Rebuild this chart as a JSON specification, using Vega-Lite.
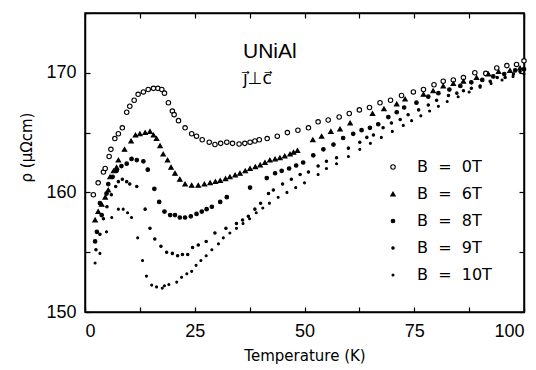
{
  "$schema": "https://vega.github.io/schema/vega-lite/v6.json",
  "width": 439,
  "height": 299,
  "autosize": {"type": "none"},
  "padding": {"left": 85, "top": 13, "right": 12, "bottom": 58},
  "background": "white",
  "config": {
    "view": {"stroke": "black", "strokeWidth": 1.5},
    "axis": {
      "grid": false,
      "domainColor": "black",
      "domainWidth": 1.5,
      "tickColor": "black",
      "tickWidth": 1.2,
      "tickSize": -5,
      "labelColor": "black",
      "labelFont": "Liberation Sans",
      "labelFontSize": 18,
      "titleColor": "black",
      "titleFont": "DejaVu Sans",
      "titleFontSize": 15,
      "titleFontWeight": "normal"
    },
    "legend": {
      "labelFont": "DejaVu Sans",
      "labelFontSize": 16,
      "labelColor": "black"
    }
  },
  "datasets": {
    "pts": [
      {"B":"0T","T":1.9,"rho":159.8},{"B":"0T","T":3.0,"rho":160.8},{"B":"0T","T":4.2,"rho":161.7},{"B":"0T","T":4.6,"rho":162.0},{"B":"0T","T":5.5,"rho":163.0},{"B":"0T","T":5.9,"rho":163.6},{"B":"0T","T":6.8,"rho":164.5},{"B":"0T","T":7.6,"rho":164.9},{"B":"0T","T":8.5,"rho":165.4},{"B":"0T","T":9.5,"rho":166.7},{"B":"0T","T":10.2,"rho":167.2},{"B":"0T","T":11.2,"rho":167.7},{"B":"0T","T":12.1,"rho":168.2},{"B":"0T","T":13.3,"rho":168.4},{"B":"0T","T":14.4,"rho":168.6},{"B":"0T","T":15.6,"rho":168.7},{"B":"0T","T":16.6,"rho":168.7},{"B":"0T","T":17.5,"rho":168.6},{"B":"0T","T":18.1,"rho":168.3},{"B":"0T","T":19.0,"rho":167.5},{"B":"0T","T":19.9,"rho":166.8},{"B":"0T","T":20.3,"rho":166.5},{"B":"0T","T":21.3,"rho":166.0},{"B":"0T","T":22.8,"rho":165.4},{"B":"0T","T":24.3,"rho":164.9},{"B":"0T","T":25.4,"rho":164.7},{"B":"0T","T":26.7,"rho":164.4},{"B":"0T","T":28.3,"rho":164.2},{"B":"0T","T":29.6,"rho":164.0},{"B":"0T","T":30.9,"rho":164.1},{"B":"0T","T":32.3,"rho":164.2},{"B":"0T","T":33.6,"rho":164.1},{"B":"0T","T":35.1,"rho":164.05},{"B":"0T","T":36.4,"rho":164.1},{"B":"0T","T":37.6,"rho":164.2},{"B":"0T","T":38.7,"rho":164.3},{"B":"0T","T":39.7,"rho":164.4},{"B":"0T","T":41.5,"rho":164.5},{"B":"0T","T":43.8,"rho":164.7},{"B":"0T","T":46.1,"rho":165.0},{"B":"0T","T":48.5,"rho":165.2},{"B":"0T","T":50.9,"rho":165.4},{"B":"0T","T":53.1,"rho":165.9},{"B":"0T","T":55.4,"rho":166.05},{"B":"0T","T":57.9,"rho":166.3},{"B":"0T","T":60.2,"rho":166.6},{"B":"0T","T":62.5,"rho":166.9},{"B":"0T","T":64.8,"rho":167.1},{"B":"0T","T":67.2,"rho":167.5},{"B":"0T","T":69.6,"rho":167.7},{"B":"0T","T":72.1,"rho":168.1},{"B":"0T","T":74.8,"rho":168.4},{"B":"0T","T":77.1,"rho":168.6},{"B":"0T","T":79.5,"rho":169.0},{"B":"0T","T":81.6,"rho":169.3},{"B":"0T","T":83.9,"rho":169.4},{"B":"0T","T":86.2,"rho":169.6},{"B":"0T","T":88.8,"rho":170.0},{"B":"0T","T":91.3,"rho":169.95},{"B":"0T","T":93.8,"rho":170.4},{"B":"0T","T":96.1,"rho":170.6},{"B":"0T","T":98.3,"rho":170.7},{"B":"0T","T":100,"rho":171.0},

      {"B":"6T","T":2.3,"rho":157.7},{"B":"6T","T":3.0,"rho":158.4},{"B":"6T","T":3.8,"rho":159.0},{"B":"6T","T":4.6,"rho":159.6},{"B":"6T","T":5.3,"rho":160.2},{"B":"6T","T":5.7,"rho":161.3},{"B":"6T","T":6.5,"rho":161.8},{"B":"6T","T":7.2,"rho":162.1},{"B":"6T","T":7.6,"rho":162.7},{"B":"6T","T":9.0,"rho":163.6},{"B":"6T","T":10.5,"rho":164.3},{"B":"6T","T":11.5,"rho":164.8},{"B":"6T","T":12.5,"rho":164.9},{"B":"6T","T":13.7,"rho":165.0},{"B":"6T","T":14.8,"rho":165.1},{"B":"6T","T":15.6,"rho":164.8},{"B":"6T","T":16.3,"rho":164.5},{"B":"6T","T":17.1,"rho":163.9},{"B":"6T","T":17.8,"rho":163.2},{"B":"6T","T":18.8,"rho":162.7},{"B":"6T","T":19.6,"rho":162.1},{"B":"6T","T":20.5,"rho":161.6},{"B":"6T","T":21.6,"rho":161.1},{"B":"6T","T":22.8,"rho":160.7},{"B":"6T","T":24.3,"rho":160.6},{"B":"6T","T":25.8,"rho":160.6},{"B":"6T","T":27.2,"rho":160.7},{"B":"6T","T":28.5,"rho":160.8},{"B":"6T","T":29.7,"rho":160.9},{"B":"6T","T":30.8,"rho":161.0},{"B":"6T","T":32.0,"rho":161.15},{"B":"6T","T":33.0,"rho":161.3},{"B":"6T","T":34.2,"rho":161.45},{"B":"6T","T":35.3,"rho":161.6},{"B":"6T","T":36.5,"rho":161.8},{"B":"6T","T":37.6,"rho":162.0},{"B":"6T","T":38.8,"rho":162.15},{"B":"6T","T":39.9,"rho":162.3},{"B":"6T","T":41.0,"rho":162.5},{"B":"6T","T":42.1,"rho":162.7},{"B":"6T","T":43.3,"rho":162.8},{"B":"6T","T":44.4,"rho":162.9},{"B":"6T","T":45.5,"rho":163.05},{"B":"6T","T":46.7,"rho":163.2},{"B":"6T","T":47.5,"rho":163.35},{"B":"6T","T":48.4,"rho":163.5},{"B":"6T","T":51.9,"rho":164.4},{"B":"6T","T":53.9,"rho":164.7},{"B":"6T","T":56.0,"rho":165.1},{"B":"6T","T":58.1,"rho":165.3},{"B":"6T","T":60.4,"rho":165.8},{"B":"6T","T":65.5,"rho":166.6},{"B":"6T","T":68.1,"rho":167.0},{"B":"6T","T":71.0,"rho":167.4},{"B":"6T","T":72.9,"rho":167.8},{"B":"6T","T":77.1,"rho":168.2},{"B":"6T","T":79.3,"rho":168.5},{"B":"6T","T":81.6,"rho":168.9},{"B":"6T","T":83.9,"rho":169.1},{"B":"6T","T":86.2,"rho":169.3},{"B":"6T","T":89.2,"rho":169.6},{"B":"6T","T":91.9,"rho":169.9},{"B":"6T","T":94.2,"rho":170.1},{"B":"6T","T":96.8,"rho":170.2},{"B":"6T","T":99.1,"rho":170.4},

      {"B":"8T","T":2.3,"rho":155.9},{"B":"8T","T":2.7,"rho":156.7},{"B":"8T","T":3.4,"rho":159.1},{"B":"8T","T":3.8,"rho":158.1},{"B":"8T","T":4.9,"rho":159.9},{"B":"8T","T":5.3,"rho":160.7},{"B":"8T","T":6.3,"rho":161.3},{"B":"8T","T":7.2,"rho":161.8},{"B":"8T","T":8.3,"rho":162.2},{"B":"8T","T":9.5,"rho":162.4},{"B":"8T","T":10.6,"rho":162.8},{"B":"8T","T":11.8,"rho":162.7},{"B":"8T","T":13.3,"rho":162.6},{"B":"8T","T":14.3,"rho":161.9},{"B":"8T","T":15.8,"rho":160.3},{"B":"8T","T":16.9,"rho":159.2},{"B":"8T","T":18.1,"rho":158.4},{"B":"8T","T":19.4,"rho":158.1},{"B":"8T","T":20.5,"rho":158.1},{"B":"8T","T":21.6,"rho":157.9},{"B":"8T","T":22.8,"rho":157.9},{"B":"8T","T":24.1,"rho":158.0},{"B":"8T","T":25.4,"rho":158.2},{"B":"8T","T":26.6,"rho":158.4},{"B":"8T","T":27.7,"rho":158.6},{"B":"8T","T":28.9,"rho":158.8},{"B":"8T","T":30.8,"rho":159.2},{"B":"8T","T":32.3,"rho":159.6},{"B":"8T","T":37.6,"rho":160.4},{"B":"8T","T":41.4,"rho":161.2},{"B":"8T","T":43.3,"rho":161.6},{"B":"8T","T":44.8,"rho":161.8},{"B":"8T","T":46.5,"rho":162.0},{"B":"8T","T":48.1,"rho":162.25},{"B":"8T","T":49.7,"rho":162.5},{"B":"8T","T":52.0,"rho":163.1},{"B":"8T","T":54.3,"rho":163.6},{"B":"8T","T":56.6,"rho":164.0},{"B":"8T","T":58.8,"rho":164.55},{"B":"8T","T":61.1,"rho":164.9},{"B":"8T","T":63.0,"rho":165.2},{"B":"8T","T":64.9,"rho":165.4},{"B":"8T","T":66.8,"rho":165.7},{"B":"8T","T":69.1,"rho":166.3},{"B":"8T","T":71.0,"rho":166.7},{"B":"8T","T":72.7,"rho":167.1},{"B":"8T","T":75.5,"rho":167.5},{"B":"8T","T":78.2,"rho":168.0},{"B":"8T","T":80.5,"rho":168.3},{"B":"8T","T":83.0,"rho":168.6},{"B":"8T","T":85.5,"rho":168.9},{"B":"8T","T":88.0,"rho":169.2},{"B":"8T","T":90.5,"rho":169.4},{"B":"8T","T":93.0,"rho":169.7},{"B":"8T","T":95.5,"rho":169.9},{"B":"8T","T":98.0,"rho":170.2},{"B":"8T","T":100,"rho":170.3},

      {"B":"9T","T":2.5,"rho":155.2},{"B":"9T","T":3.4,"rho":156.5},{"B":"9T","T":4.2,"rho":157.8},{"B":"9T","T":5.0,"rho":158.8},{"B":"9T","T":6.0,"rho":159.8},{"B":"9T","T":7.0,"rho":160.5},{"B":"9T","T":7.6,"rho":160.9},{"B":"9T","T":8.5,"rho":161.1},{"B":"9T","T":9.5,"rho":160.9},{"B":"9T","T":10.2,"rho":160.7},{"B":"9T","T":11.8,"rho":160.5},{"B":"9T","T":13.7,"rho":158.6},{"B":"9T","T":14.8,"rho":157.0},{"B":"9T","T":15.9,"rho":156.1},{"B":"9T","T":17.3,"rho":155.5},{"B":"9T","T":18.6,"rho":155.0},{"B":"9T","T":19.9,"rho":154.9},{"B":"9T","T":21.1,"rho":154.7},{"B":"9T","T":22.2,"rho":154.8},{"B":"9T","T":23.4,"rho":154.8},{"B":"9T","T":24.5,"rho":155.4},{"B":"9T","T":25.8,"rho":155.6},{"B":"9T","T":27.6,"rho":155.9},{"B":"9T","T":29.6,"rho":156.6},{"B":"9T","T":32.1,"rho":157.0},{"B":"9T","T":34.5,"rho":157.4},{"B":"9T","T":35.9,"rho":157.7},{"B":"9T","T":37.2,"rho":158.0},{"B":"9T","T":38.7,"rho":158.6},{"B":"9T","T":40.0,"rho":159.1},{"B":"9T","T":41.8,"rho":159.9},{"B":"9T","T":42.9,"rho":160.2},{"B":"9T","T":45.0,"rho":160.7},{"B":"9T","T":47.0,"rho":161.1},{"B":"9T","T":49.0,"rho":161.5},{"B":"9T","T":50.9,"rho":161.7},{"B":"9T","T":53.1,"rho":162.2},{"B":"9T","T":55.0,"rho":162.6},{"B":"9T","T":57.3,"rho":162.9},{"B":"9T","T":60.0,"rho":163.7},{"B":"9T","T":62.6,"rho":164.2},{"B":"9T","T":64.2,"rho":164.6},{"B":"9T","T":65.7,"rho":164.8},{"B":"9T","T":67.9,"rho":165.4},{"B":"9T","T":69.8,"rho":165.8},{"B":"9T","T":71.8,"rho":166.1},{"B":"9T","T":73.6,"rho":166.5},{"B":"9T","T":76.0,"rho":166.9},{"B":"9T","T":78.2,"rho":167.3},{"B":"9T","T":80.1,"rho":167.7},{"B":"9T","T":82.8,"rho":168.1},{"B":"9T","T":84.7,"rho":168.3},{"B":"9T","T":86.2,"rho":168.5},{"B":"9T","T":88.0,"rho":168.7},{"B":"9T","T":90.0,"rho":168.9},{"B":"9T","T":92.3,"rho":169.3},{"B":"9T","T":93.9,"rho":169.6},{"B":"9T","T":95.7,"rho":169.6},{"B":"9T","T":97.6,"rho":169.9},{"B":"9T","T":99.1,"rho":170.1},

      {"B":"10T","T":2.3,"rho":154.1},{"B":"10T","T":3.4,"rho":154.9},{"B":"10T","T":4.9,"rho":156.7},{"B":"10T","T":6.1,"rho":157.9},{"B":"10T","T":7.6,"rho":158.6},{"B":"10T","T":8.7,"rho":158.6},{"B":"10T","T":9.7,"rho":158.3},{"B":"10T","T":10.6,"rho":157.9},{"B":"10T","T":12.0,"rho":156.2},{"B":"10T","T":13.1,"rho":154.3},{"B":"10T","T":14.0,"rho":153.0},{"B":"10T","T":15.2,"rho":152.25},{"B":"10T","T":16.3,"rho":152.1},{"B":"10T","T":17.6,"rho":152.0},{"B":"10T","T":18.1,"rho":152.2},{"B":"10T","T":19.1,"rho":152.3},{"B":"10T","T":20.9,"rho":152.5},{"B":"10T","T":22.0,"rho":152.9},{"B":"10T","T":23.2,"rho":153.2},{"B":"10T","T":24.3,"rho":153.4},{"B":"10T","T":25.3,"rho":153.9},{"B":"10T","T":26.4,"rho":154.3},{"B":"10T","T":27.6,"rho":154.7},{"B":"10T","T":28.9,"rho":155.2},{"B":"10T","T":30.4,"rho":155.7},{"B":"10T","T":31.5,"rho":156.2},{"B":"10T","T":33.0,"rho":156.6},{"B":"10T","T":34.5,"rho":157.0},{"B":"10T","T":36.0,"rho":157.4},{"B":"10T","T":37.5,"rho":157.8},{"B":"10T","T":39.0,"rho":158.3},{"B":"10T","T":40.5,"rho":158.7},{"B":"10T","T":42.0,"rho":159.1},{"B":"10T","T":44.0,"rho":159.6},{"B":"10T","T":46.0,"rho":160.0},{"B":"10T","T":48.0,"rho":160.4},{"B":"10T","T":50.0,"rho":160.8},{"B":"10T","T":53.1,"rho":161.5},{"B":"10T","T":55.0,"rho":162.0},{"B":"10T","T":57.3,"rho":162.4},{"B":"10T","T":60.0,"rho":163.0},{"B":"10T","T":62.6,"rho":163.6},{"B":"10T","T":65.0,"rho":164.1},{"B":"10T","T":67.5,"rho":164.6},{"B":"10T","T":70.0,"rho":165.1},{"B":"10T","T":72.5,"rho":165.6},{"B":"10T","T":74.4,"rho":166.0},{"B":"10T","T":76.5,"rho":166.4},{"B":"10T","T":78.5,"rho":166.8},{"B":"10T","T":80.5,"rho":167.2},{"B":"10T","T":82.5,"rho":167.6},{"B":"10T","T":85.0,"rho":168.0},{"B":"10T","T":87.5,"rho":168.4},{"B":"10T","T":90.0,"rho":168.8},{"B":"10T","T":92.5,"rho":169.1},{"B":"10T","T":95.0,"rho":169.4},{"B":"10T","T":97.5,"rho":169.7},{"B":"10T","T":100,"rho":169.9}
    ],
    "notes": [{"label": "UNiAl", "sub": "j\u20d7\u22a5c\u20d7"}]
  },
  "layer": [
    {
      "data": {"name": "pts"},
      "mark": {"type": "point", "filled": true, "stroke": "black", "strokeWidth": 1.1, "opacity": 1},
      "encoding": {
        "x": {"field": "T", "type": "quantitative",
              "scale": {"domain": [0, 100], "nice": false, "zero": false},
              "axis": {"values": [0, 12.5, 25, 37.5, 50, 62.5, 75, 87.5, 100],
                       "labelExpr": "datum.value % 25 == 0 ? datum.label : ''",
                       "labelPadding": 15, "title": "Temperature (K)",
                       "titleY": 43, "titleBaseline": "middle"}},
        "y": {"field": "rho", "type": "quantitative",
              "scale": {"domain": [150, 175], "nice": false, "zero": false},
              "axis": {"values": [150, 155, 160, 165, 170, 175],
                       "labelExpr": "datum.value % 10 == 0 ? datum.label : ''",
                       "labelPadding": 14, "title": "ρ (μΩcm)",
                       "titleX": -59, "titleY": 134, "titleAlign": "center", "titleBaseline": "middle"}},
        "shape": {"field": "B", "type": "nominal",
                  "scale": {"domain": ["0T", "6T", "8T", "9T", "10T"],
                            "range": ["circle", "triangle-up", "circle", "circle", "circle"]},
                  "legend": {"orient": "none", "legendX": 300, "legendY": 146, "title": null,
                             "labelExpr": "'B\u00a0\u00a0=\u00a0\u00a0' + datum.label",
                             "rowPadding": 11, "labelOffset": 16,
                             "symbolStrokeColor": "black", "symbolStrokeWidth": 1.1}},
        "size": {"field": "B", "type": "nominal",
                 "scale": {"type": "ordinal", "domain": ["0T", "6T", "8T", "9T", "10T"], "range": [20, 20, 13, 6, 4]}},
        "fill": {"field": "B", "type": "nominal",
                 "scale": {"domain": ["0T", "6T", "8T", "9T", "10T"],
                           "range": ["white", "black", "black", "black", "black"]}}
      }
    },
    {
      "data": {"name": "pts"},
      "mark": {"type": "point", "opacity": 0},
      "encoding": {
        "x": {"field": "T", "type": "quantitative",
              "scale": {"domain": [0, 100], "nice": false, "zero": false},
              "axis": {"orient": "top", "values": [0, 12.5, 25, 37.5, 50, 62.5, 75, 87.5, 100], "labels": false, "title": null}},
        "y": {"field": "rho", "type": "quantitative",
              "scale": {"domain": [150, 175], "nice": false, "zero": false},
              "axis": {"orient": "right", "values": [150, 155, 160, 165, 170, 175], "labels": false, "title": null}}
      }
    },
    {
      "data": {"name": "notes"},
      "mark": {"type": "text", "align": "left", "baseline": "alphabetic", "font": "Liberation Sans", "fontSize": 21, "color": "black"},
      "encoding": {
        "x": {"datum": 36, "type": "quantitative", "axis": null},
        "y": {"datum": 171.2, "type": "quantitative", "axis": null},
        "text": {"field": "label"}
      }
    },
    {
      "data": {"name": "notes"},
      "mark": {"type": "text", "align": "left", "baseline": "alphabetic", "font": "DejaVu Sans", "fontSize": 17, "color": "black"},
      "encoding": {
        "x": {"datum": 36, "type": "quantitative", "axis": null},
        "y": {"datum": 169.1, "type": "quantitative", "axis": null},
        "text": {"field": "sub"}
      }
    }
  ],
  "resolve": {"axis": {"x": "independent", "y": "independent"}}
}
